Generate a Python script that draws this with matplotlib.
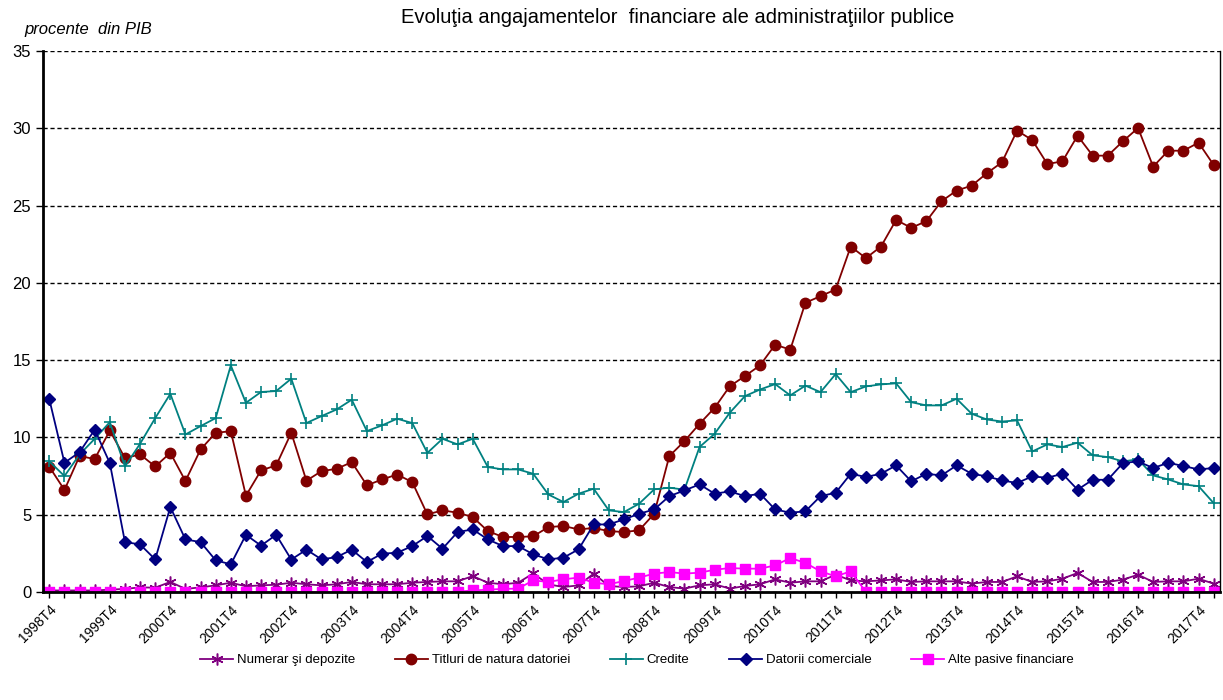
import matplotlib
matplotlib.use("Agg")
import matplotlib.pyplot as plt
import numpy as np

plt.rcParams['font.family'] = ['Liberation Sans', 'DejaVu Sans']

# quarterly categories 1998T4 .. 2018T1
quarters = ["1998T4"] + ["%dT%d" % (y, q) for y in range(1999, 2018) for q in (1, 2, 3, 4)] + ["2018T1"]

numerar = [0.1, 0.1, 0.1, 0.1, 0.15, 0.2, 0.3, 0.28, 0.65, 0.2,
           0.3, 0.43, 0.6, 0.37, 0.43, 0.47, 0.6, 0.5, 0.43, 0.5,
           0.65, 0.5, 0.5, 0.5, 0.6, 0.65, 0.69, 0.69, 1.03, 0.6,
           0.5, 0.6, 1.2, 0.5, 0.32, 0.43, 1.19, 0.39, 0.32, 0.37,
           0.6, 0.32, 0.22, 0.43, 0.5, 0.22, 0.39, 0.5, 0.82, 0.6,
           0.69, 0.69, 1.12, 0.75, 0.69, 0.75, 0.82, 0.65, 0.69, 0.69,
           0.69, 0.54, 0.65, 0.65, 1.01, 0.65, 0.69, 0.86, 1.23, 0.65,
           0.65, 0.8, 1.12, 0.65, 0.69, 0.69, 0.86, 0.54]

titluri = [8.1, 6.6, 8.8, 8.6, 10.45, 8.66, 8.9, 8.12, 9.0, 7.18,
           9.22, 10.3, 10.4, 6.23, 7.87, 8.19, 10.3, 7.2, 7.82, 7.97,
           8.4, 6.9, 7.28, 7.6, 7.11, 5.02, 5.28, 5.13, 4.85, 3.94,
           3.56, 3.56, 3.6, 4.2, 4.27, 4.05, 4.14, 3.94, 3.88, 3.99,
           5.06, 8.79, 9.76, 10.88, 11.92, 13.31, 13.97, 14.66, 16.0, 15.68,
           18.71, 19.14, 19.57, 22.35, 21.6, 22.35, 24.07, 23.56, 23.99, 25.28,
           25.97, 26.29, 27.09, 27.8, 29.85, 29.24, 27.69, 27.86, 29.52, 28.23,
           28.23, 29.16, 30.02, 27.52, 28.55, 28.55, 29.07, 27.63]

credite = [8.45, 7.5, 8.9, 9.91, 10.99, 8.12, 9.59, 11.25, 12.82, 10.19,
           10.73, 11.25, 14.66, 12.24, 12.94, 13.0, 13.8, 10.93, 11.38, 11.81,
           12.44, 10.41, 10.78, 11.21, 10.93, 9.0, 9.91, 9.55, 9.91, 8.08,
           7.93, 7.93, 7.65, 6.31, 5.82, 6.36, 6.68, 5.28, 5.17, 5.71,
           6.64, 6.75, 6.62, 9.38, 10.24, 11.6, 12.67, 13.1, 13.45, 12.72,
           13.35, 12.93, 14.1, 12.93, 13.3, 13.43, 13.5, 12.28, 12.07, 12.07,
           12.5, 11.53, 11.16, 11.03, 11.1, 9.09, 9.55, 9.38, 9.66, 8.84,
           8.73, 8.45, 8.58, 7.54, 7.28, 6.96, 6.85, 5.75]

datorii = [12.46, 8.36, 9.05, 10.5, 8.34, 3.23, 3.08, 2.11, 5.5, 3.4,
           3.23, 2.05, 1.79, 3.7, 3.0, 3.7, 2.1, 2.74, 2.11, 2.26,
           2.74, 1.94, 2.48, 2.54, 2.97, 3.62, 2.8, 3.88, 4.05, 3.4,
           2.97, 2.97, 2.44, 2.11, 2.22, 2.76, 4.37, 4.37, 4.7, 5.06,
           5.34, 6.2, 6.57, 6.96, 6.36, 6.51, 6.2, 6.36, 5.34, 5.13,
           5.22, 6.2, 6.42, 7.65, 7.44, 7.65, 8.19, 7.16, 7.65, 7.54,
           8.19, 7.65, 7.48, 7.22, 7.05, 7.48, 7.39, 7.65, 6.62, 7.26,
           7.26, 8.34, 8.45, 8.02, 8.36, 8.15, 7.93, 8.02]

alte = [0] * 27 + [0.02, 0.1, 0.15, 0.2, 0.22, 0.75, 0.65, 0.82, 0.93, 0.6,
                   0.5, 0.71, 0.93, 1.19, 1.29, 1.19, 1.25, 1.44, 1.55, 1.51,
                   1.51, 1.72, 2.2, 1.88, 1.34, 1.01, 1.34] + [0] * 24

x = np.arange(len(quarters))

fig = plt.figure(figsize=(12.23, 7.0), dpi=100)
ax = fig.add_axes([43/1223, 1-592/700, (1220-43)/1223, (592-51)/700])

ax.plot(x, numerar, color='#800080', lw=1.3, marker=(6, 2, 0), ms=8.5, mew=1.1,
        label='Numerar şi depozite')
ax.plot(x, titluri, color='#800000', lw=1.3, marker='o', ms=7.5,
        label='Titluri de natura datoriei')
ax.plot(x, credite, color='#008080', lw=1.3, marker='+', ms=8.5, mew=1.2,
        label='Credite')
ax.plot(x, datorii, color='#000080', lw=1.3, marker='D', ms=6,
        label='Datorii comerciale')
ax.plot(x, alte, color='#FF00FF', lw=1.3, marker='s', ms=7,
        label='Alte pasive financiare')

ax.set_ylim(0, 35)
ax.set_xlim(-0.42, len(x) - 0.58)
ax.set_yticks(range(0, 36, 5))
ax.yaxis.grid(True, color='black', linestyle=(0, (3, 2)), linewidth=1)
ax.set_axisbelow(True)
ax.tick_params(axis='y', labelsize=12, length=5, width=1)

ax.set_xticks(x[::4])
ax.set_xticklabels(quarters[::4], rotation=45, ha='right', rotation_mode='anchor', fontsize=10)
ax.set_xticks(x, minor=True)
ax.tick_params(axis='x', which='both', length=4, width=1)

ax.spines['top'].set_visible(False)
ax.spines['left'].set_linewidth(2)
ax.spines['bottom'].set_linewidth(2)
ax.spines['right'].set_linewidth(1)

fig.text(0.554, 0.975, 'Evoluţia angajamentelor  financiare ale administraţiilor publice',
         ha='center', va='center', fontsize=14.5)
fig.text(0.02, 0.958, 'procente  din PIB', style='italic', fontsize=12, ha='left', va='center')

fig.legend(loc='center', bbox_to_anchor=(0.521, 0.057), ncol=5, frameon=False,
           fontsize=9.5, handlelength=2.5, columnspacing=3.0, handletextpad=0.3)

fig.savefig('out.png', dpi=100)
